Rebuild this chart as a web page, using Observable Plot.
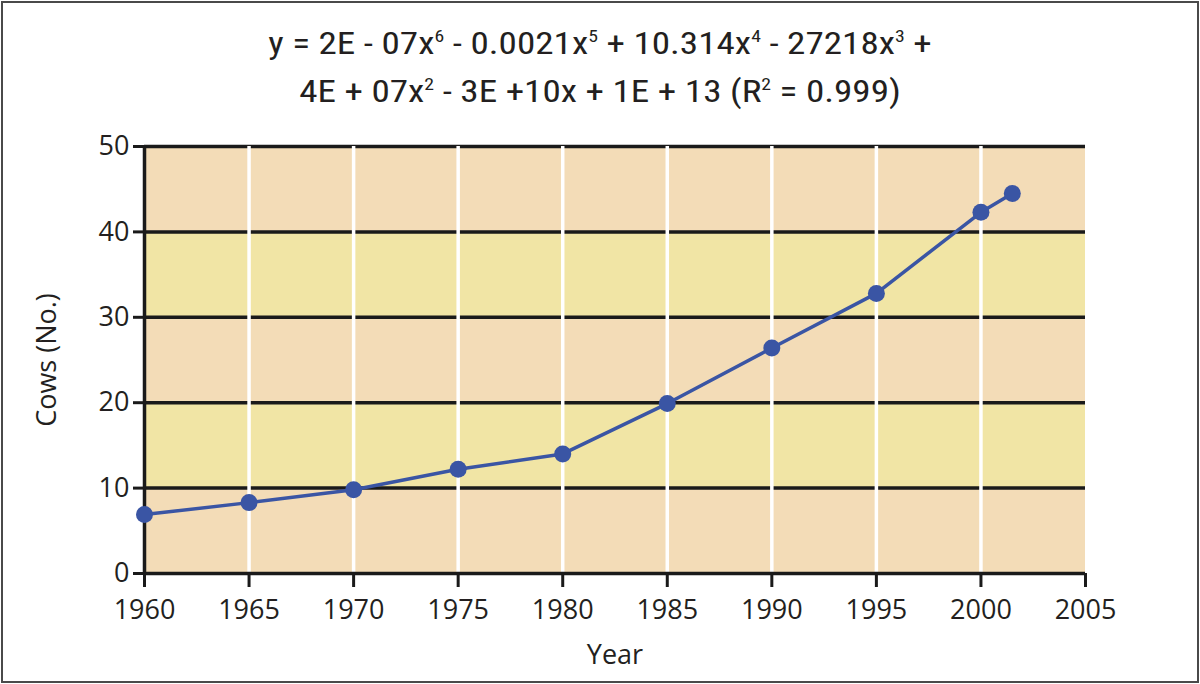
<!DOCTYPE html>
<html>
<head>
<meta charset="utf-8">
<script src="https://cdn.jsdelivr.net/npm/d3@7"></script>
<script src="https://cdn.jsdelivr.net/npm/@observablehq/plot@0.6"></script>
<style>
  html, body { margin: 0; padding: 0; background: #fff; }
  #wrap { position: relative; width: 1200px; height: 684px; overflow: hidden; background: #fff; }
  #frame { position: absolute; left: 1px; top: 1px; width: 1194px; height: 678px; border: 2px solid #4a4a4a; pointer-events: none; }
  #title { position: absolute; left: 0; top: 22px; width: 1200px; text-align: center;
           font-family: "Liberation Sans Narrow", "Arial Narrow", "Roboto Condensed", sans-serif;
           font-size: 32px; line-height: 43px; color: #231f20; font-weight: 400;
           transform: scaleX(1.16); transform-origin: 600px 0; }
  #title sup { font-size: 17px; vertical-align: 0; position: relative; top: -12px; }
  #chart { position: absolute; left: 0; top: 120px; }
  #chart svg { font-family: "Open Sans", Lato, sans-serif; }
</style>
</head>
<body>
<div id="wrap">
  <div id="title">y = 2E - 07x<sup>6</sup> - 0.0021x<sup>5</sup> + 10.314x<sup>4</sup> - 27218x<sup>3</sup> +<br>4E + 07x<sup>2</sup> - 3E +10x + 1E + 13 (R<sup>2</sup> = 0.999)</div>
  <div id="chart"></div>
  <div id="frame"></div>
</div>
<script>
const years = [1960, 1965, 1970, 1975, 1980, 1985, 1990, 1995, 2000, 2001.5];
const cows  = [6.9, 8.3, 9.8, 12.2, 14.0, 19.9, 26.4, 32.8, 42.3, 44.5];
const xTicks = [1960, 1965, 1970, 1975, 1980, 1985, 1990, 1995, 2000, 2005];
const yTicks = [0, 10, 20, 30, 40, 50];
const bandLow  = [0, 10, 20, 30, 40];
const bandHigh = [10, 20, 30, 40, 50];
const bandFill = ["#f3dcb7", "#f1e5a5", "#f3dcb7", "#f1e5a5", "#f3dcb7"];

const data = years.map((y, i) => ({year: y, cows: cows[i]}));
const bands = bandLow.map((lo, i) => ({lo, hi: bandHigh[i], fill: bandFill[i]}));

const chart = Plot.plot({
  width: 1200,
  height: 560,
  marginLeft: 144,
  marginRight: 115,
  marginTop: 26,
  marginBottom: 107,
  style: {fontSize: "27px", color: "#231f20", background: "transparent"},
  x: {domain: [1960, 2005], ticks: xTicks, tickFormat: "d", label: null},
  y: {domain: [0, 50], ticks: yTicks, label: null},
  marks: [
    Plot.rect(bands, {x1: 1960, x2: 2005, y1: "lo", y2: "hi", fill: "fill"}),
    Plot.ruleY(yTicks.slice(1), {x1: 1960, x2: 2005, stroke: "#1a1a1a", strokeWidth: 3.5}),
    Plot.ruleX(xTicks.slice(1, -1), {y1: 0, y2: 50, stroke: "#ffffff", strokeWidth: 3.5}),
    Plot.ruleY([0], {x1: 1960, x2: 2005, stroke: "#1a1a1a", strokeWidth: 3.5}),
    Plot.ruleX([1960], {y1: 0, y2: 50, stroke: "#1a1a1a", strokeWidth: 3.5}),
    Plot.axisX({ticks: xTicks, tickFormat: "d", tickSize: 14, tickPadding: 12, stroke: "#1a1a1a", strokeWidth: 3, label: "Year", labelAnchor: "center", labelOffset: 90, labelArrow: "none"}),
    Plot.axisY({ticks: yTicks, tickSize: 11, tickPadding: 4, stroke: "#1a1a1a", strokeWidth: 3, label: "Cows (No.)", labelAnchor: "center", labelOffset: 108, labelArrow: "none"}),
    Plot.line(data, {x: "year", y: "cows", stroke: "#3a55a4", strokeWidth: 3.5}),
    Plot.dot(data, {x: "year", y: "cows", fill: "#3a55a4", r: 8.5})
  ]
});
document.getElementById("chart").appendChild(chart);
</script>
</body>
</html>
